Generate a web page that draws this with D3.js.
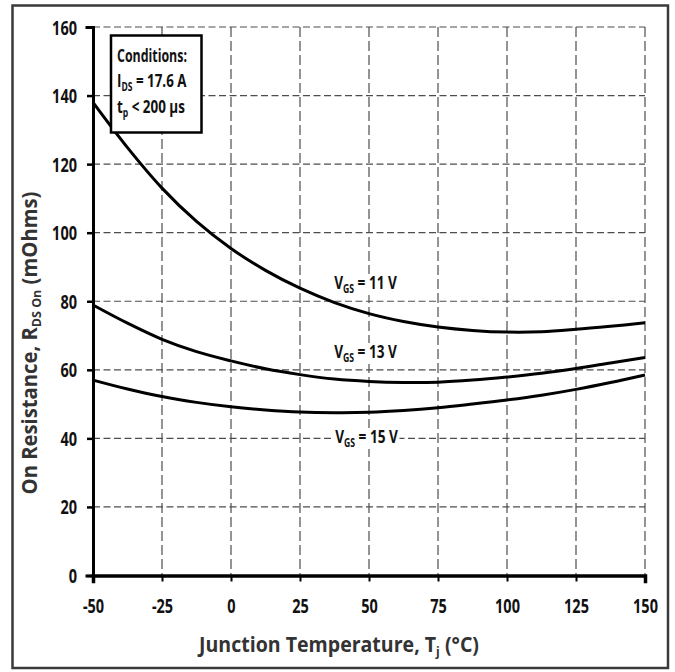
<!DOCTYPE html>
<html>
<head>
<meta charset="utf-8">
<script src="https://cdn.jsdelivr.net/npm/d3@7/dist/d3.min.js"></script>
<style>
  html, body { margin: 0; padding: 0; background: #fff; }
  svg { display: block; }
  text { font-family: "Open Sans", "Noto Sans", "Liberation Sans", sans-serif; font-weight: 700; }
</style>
</head>
<body>
<svg id="chart" width="675" height="672"></svg>
<script>
// ---- data ----
const temps = [-50, -37.5, -25, -12.5, 0, 12.5, 25, 37.5, 50, 62.5, 75, 87.5, 100, 112.5, 125, 137.5, 150];
const rdsVgs11 = [138, 124.8, 113.0, 103.3, 95.4, 89.0, 83.8, 79.6, 76.4, 74.1, 72.5, 71.5, 71.0, 71.1, 71.8, 72.7, 73.7];
const rdsVgs13 = [78.9, 73.6, 68.9, 65.3, 62.6, 60.3, 58.6, 57.3, 56.6, 56.3, 56.4, 57.0, 57.9, 59.0, 60.4, 62.0, 63.6];
const rdsVgs15 = [57.0, 54.4, 52.2, 50.5, 49.2, 48.3, 47.7, 47.5, 47.6, 48.1, 48.9, 50.0, 51.2, 52.6, 54.3, 56.3, 58.5];
const xTicks = [-50, -25, 0, 25, 50, 75, 100, 125, 150];
const yTicks = [0, 20, 40, 60, 80, 100, 120, 140, 160];
const labelVgs = ["11", "13", "15"];
const conditionLines = [["Conditions:", "", ""], ["I", "DS", " = 17.6 A"], ["t", "p", " < 200 µs"]];

// ---- layout ----
const svg = d3.select("#chart");
const x = d3.scaleLinear().domain([-50, 150]).range([93, 645]);
const y = d3.scaleLinear().domain([0, 160]).range([575.5, 27]);

function squeeze(node, s, ax) {
  d3.select(node).attr("transform", `translate(${ax},0) scale(${s},1) translate(${-ax},0)`);
}
function fitWidth(node, target, ax) {
  const w = node.getBBox().width;
  squeeze(node, target / w, ax);
}
function subText(t, main, sub, rest, subSize, drop) {
  t.append("tspan").text(main);
  if (sub) {
    t.append("tspan").text(sub).attr("font-size", subSize).attr("dy", drop);
    t.append("tspan").text(rest).attr("dy", -drop);
  }
}

// outer frame
svg.append("rect").attr("x", 12.5).attr("y", 5.5).attr("width", 655.5).attr("height", 662.5)
  .attr("fill", "#fff").attr("stroke", "#3a3a3a").attr("stroke-width", 2.5);

// grid
const grid = svg.append("g");
grid.selectAll("line.h").data(yTicks.filter(v => v !== 0)).join("line")
  .attr("x1", x(-50)).attr("x2", x(150))
  .attr("y1", d => y(d)).attr("y2", d => y(d))
  .attr("stroke", "#4d4d4d").attr("stroke-width", 1.2).attr("stroke-dasharray", "7,3.5");
grid.selectAll("line.v").data(xTicks.filter(v => v !== -50)).join("line")
  .attr("x1", d => x(d)).attr("x2", d => x(d))
  .attr("y1", y(160)).attr("y2", y(0))
  .attr("stroke", "#4d4d4d").attr("stroke-width", 1.2).attr("stroke-dasharray", "10,4");

// curves
const line = d3.line().x(d => x(d[0])).y(d => y(d[1])).curve(d3.curveCatmullRom.alpha(0.5));
[rdsVgs11, rdsVgs13, rdsVgs15].forEach(vals => {
  svg.append("path").datum(temps.map((t, i) => [t, vals[i]]))
    .attr("d", line).attr("fill", "none").attr("stroke", "#000").attr("stroke-width", 3)
    .attr("stroke-linejoin", "round");
});

// axes
const tickFmt = d => String(d);
const yAxis = svg.append("g").attr("transform", `translate(${x(-50)},0)`)
  .call(d3.axisLeft(y).tickValues(yTicks).tickFormat(tickFmt).tickSize(6).tickPadding(10));
yAxis.select(".domain").attr("stroke", "#000").attr("stroke-width", 3);
yAxis.selectAll(".tick line").attr("stroke", "#000").attr("stroke-width", 2.5);
const yTxt = yAxis.selectAll(".tick text").attr("font-size", 19).attr("fill", "#111")
  .attr("font-family", null).attr("dy", null).attr("y", 7);

const xAxis = svg.append("g").attr("transform", `translate(0,${y(0)})`)
  .call(d3.axisBottom(x).tickValues(xTicks).tickFormat(tickFmt).tickSize(6).tickPadding(16));
xAxis.select(".domain").attr("stroke", "#000").attr("stroke-width", 3.5);
xAxis.selectAll(".tick line").attr("stroke", "#000").attr("stroke-width", 2);
const xTxt = xAxis.selectAll(".tick text").attr("font-size", 19).attr("fill", "#111")
  .attr("font-family", null).attr("dy", null).attr("y", 38);
svg.selectAll(".domain").attr("stroke-linecap", "square");
svg.selectAll(".tick text").attr("font-weight", 700);

// condense tick labels to match reference proportions
const refW = yTxt.filter(d => d === 120).node().getBBox().width;
const tickScale = 25 / refW;
yTxt.each(function () { squeeze(this, tickScale, -16); });
xTxt.each(function () { squeeze(this, tickScale, 0); });

// axis titles
const xt = svg.append("text").attr("x", 339).attr("y", 652).attr("text-anchor", "middle")
  .attr("font-size", 21).attr("fill", "#333");
subText(xt, "Junction Temperature, T", "j", " (°C)", 13, 4);
fitWidth(xt.node(), 282, 339);

const ytg = svg.append("g").attr("transform", "translate(37,343) rotate(-90)");
const yt = ytg.append("text").attr("x", 0).attr("y", 0)
  .attr("text-anchor", "middle").attr("font-size", 21).attr("fill", "#333");
subText(yt, "On Resistance, R", "DS On", " (mOhms)", 13, 4);
fitWidth(yt.node(), 303, 0);

// series labels with white background
const labelCx = [365.5, 365.5, 366.5];
const labelBase = [289, 358, 443];
labelVgs.forEach((v, i) => {
  const g = svg.append("g");
  const t = g.append("text").attr("x", labelCx[i]).attr("y", labelBase[i])
    .attr("text-anchor", "middle").attr("font-size", 18).attr("fill", "#111");
  subText(t, "V", "GS", " = " + v + " V", 11.5, 4);
  fitWidth(t.node(), 63, labelCx[i]);
  g.insert("rect", "text").attr("x", labelCx[i] - 33).attr("y", labelBase[i] - 15)
    .attr("width", 66).attr("height", 21).attr("fill", "#fff");
});

// conditions box
const cb = svg.append("g");
cb.append("rect").attr("x", 111).attr("y", 35.5).attr("width", 90.5).attr("height", 97)
  .attr("fill", "#fff").attr("stroke", "#000").attr("stroke-width", 2.5);
const condBase = [62, 87.5, 113];
const condW = [70, 70, 68];
conditionLines.forEach((c, i) => {
  const t = cb.append("text").attr("x", 117).attr("y", condBase[i]).attr("font-size", 18).attr("fill", "#111");
  subText(t, c[0], c[1], c[2], 11.5, 4);
  fitWidth(t.node(), condW[i], 117);
});
</script>
</body>
</html>
